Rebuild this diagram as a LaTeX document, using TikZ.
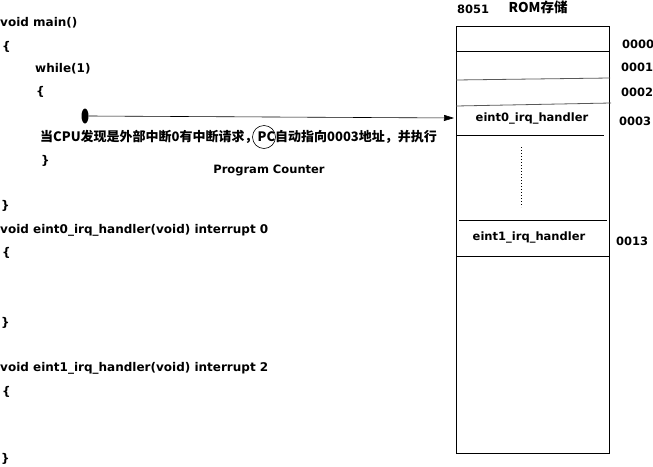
\documentclass[tikz,border=0pt]{standalone}
\usepackage{fontspec}
\setmainfont{DejaVu Sans}
\newfontfamily\cjk{Noto Sans CJK SC}
\usetikzlibrary{arrows.meta,shapes.geometric}
\begin{document}
\begin{tikzpicture}[x=1pt,y=-1pt,
  code/.style={anchor=west,inner sep=0pt,font=\fontsize{12}{14}\selectfont\bfseries},
  addr/.style={inner sep=0pt,font=\fontsize{11.5}{13}\selectfont\bfseries},
  romline/.style={line width=0.8pt},
  slant/.style={line width=0.8pt,black!65}]
\useasboundingbox (0,0) rectangle (653,466);
% code on the left
\node[code] (l1) at (0,23) {void main()};
\node[code] (l2) at (2,47) {\{};
\node[code] (l3) at (35,69) {while(1)};
\node[code] (l4) at (36,92) {\{};
\node[code,font=\fontsize{13}{15}\selectfont\bfseries\cjk] (msg) at (40,137) {当CPU发现是外部中断0有中断请求，PC自动指向0003地址，并执行};
\node[code] (l6) at (41,161) {\}};
\node[addr] (pcl) at (269,170) {Program Counter};
\node[code] (l7) at (1,206) {\}};
\node[code] (l8) at (0,230) {void eint0\_irq\_handler(void) interrupt 0};
\node[code] (l9) at (2,253) {\{};
\node[code] (l10) at (1,323) {\}};
\node[code] (l11) at (0,368) {void eint1\_irq\_handler(void) interrupt 2};
\node[code] (l12) at (2,392) {\{};
\node[code] (l13) at (1,459) {\}};
% PC circle
\node[circle,draw,line width=0.6pt,minimum size=23pt,inner sep=0pt] (pc) at (264,137) {};
% ROM
\node[addr] (chip) at (473,9) {8051};
\node[addr,font=\fontsize{13.5}{15}\selectfont\bfseries\cjk] (rom) at (538,7) {ROM存储};
\draw[romline] (456,26) rectangle (609,453);
\coordinate (box) at (456,26);
\draw[romline] (456,51) -- (609,51);
\draw[slant] (456,80) -- (610,78);
\draw[slant] (456,106) -- (611,103);
\draw[romline] (456,135) -- (604,135);
\draw[romline] (459,220) -- (607,220);
\draw[romline] (456,256) -- (609,256);
\draw[line width=1pt,dotted] (521,147) -- (521,207);
\node[addr] (h0) at (532,118) {eint0\_irq\_handler};
\node[addr] (h1) at (529,237) {eint1\_irq\_handler};
\node[addr] (a0) at (638,44) {0000};
\node[addr] (a1) at (637,67) {0001};
\node[addr] (a2) at (637,92) {0002};
\node[addr] (a3) at (635,121) {0003};
\node[addr] (a13) at (632,241) {0013};
% arrow
\node[ellipse,fill=black,minimum width=7pt,minimum height=15pt,inner sep=0pt] (dot) at (85,116) {};
\coordinate (tip) at (454,118);
\draw[line width=0.6pt,-{Triangle[length=10pt,width=6pt]}] (dot.east) -- (tip);
\end{tikzpicture}
\end{document}
